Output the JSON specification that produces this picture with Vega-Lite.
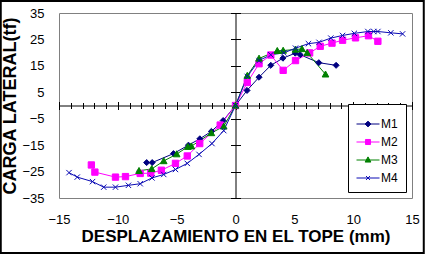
{
  "$schema": "https://vega.github.io/schema/vega-lite/v6.json",
  "width": 353,
  "height": 185,
  "autosize": {"type": "none"},
  "padding": {"left": 59, "top": 13, "right": 14, "bottom": 58},
  "background": "white",
  "config": {
    "view": {"stroke": "#808080", "strokeWidth": 1},
    "font": "Liberation Sans",
    "axis": {"grid": false}
  },
  "data": {
    "values": [
      {"series": "M1", "x": -7.55, "y": -21.6},
      {"series": "M1", "x": -7.08, "y": -21.6},
      {"series": "M1", "x": -5.27, "y": -18.2},
      {"series": "M1", "x": -4.0, "y": -15.0},
      {"series": "M1", "x": -3.03, "y": -12.6},
      {"series": "M1", "x": -2.05, "y": -9.8},
      {"series": "M1", "x": -1.05, "y": -5.7},
      {"series": "M1", "x": 0, "y": 0},
      {"series": "M1", "x": 0.98, "y": 5.7},
      {"series": "M1", "x": 2.0, "y": 10.7},
      {"series": "M1", "x": 3.0, "y": 15.2},
      {"series": "M1", "x": 4.03, "y": 17.9},
      {"series": "M1", "x": 5.08, "y": 19.8},
      {"series": "M1", "x": 5.5, "y": 19.2},
      {"series": "M1", "x": 7.08, "y": 16.2},
      {"series": "M1", "x": 8.55, "y": 15.2},
      {"series": "M2", "x": -12.25, "y": -22.5},
      {"series": "M2", "x": -11.95, "y": -25.2},
      {"series": "M2", "x": -10.2, "y": -27.1},
      {"series": "M2", "x": -9.35, "y": -26.9},
      {"series": "M2", "x": -8.1, "y": -25.7},
      {"series": "M2", "x": -7.2, "y": -25.6},
      {"series": "M2", "x": -6.3, "y": -24.5},
      {"series": "M2", "x": -5.1, "y": -21.9},
      {"series": "M2", "x": -4.1, "y": -19.1},
      {"series": "M2", "x": -3.04, "y": -14.4},
      {"series": "M2", "x": -1.3, "y": -7.4},
      {"series": "M2", "x": 0, "y": 0},
      {"series": "M2", "x": 1.0, "y": 8.7},
      {"series": "M2", "x": 2.0, "y": 15.8},
      {"series": "M2", "x": 3.0, "y": 19.1},
      {"series": "M2", "x": 4.05, "y": 13.3},
      {"series": "M2", "x": 5.1, "y": 17.0},
      {"series": "M2", "x": 6.3, "y": 19.9},
      {"series": "M2", "x": 7.2, "y": 22.4},
      {"series": "M2", "x": 8.2, "y": 23.6},
      {"series": "M2", "x": 9.1, "y": 24.7},
      {"series": "M2", "x": 10.2, "y": 25.6},
      {"series": "M2", "x": 11.3, "y": 26.4},
      {"series": "M2", "x": 12.1, "y": 24.3},
      {"series": "M3", "x": -8.2, "y": -24.7},
      {"series": "M3", "x": -7.12, "y": -24.0},
      {"series": "M3", "x": -6.1, "y": -21.0},
      {"series": "M3", "x": -5.0, "y": -18.4},
      {"series": "M3", "x": -4.05, "y": -15.6},
      {"series": "M3", "x": -3.75, "y": -15.4},
      {"series": "M3", "x": -2.05, "y": -10.4},
      {"series": "M3", "x": -1.0, "y": -7.9},
      {"series": "M3", "x": 0, "y": 0},
      {"series": "M3", "x": 1.0, "y": 11.3},
      {"series": "M3", "x": 2.0, "y": 17.8},
      {"series": "M3", "x": 3.55, "y": 20.7},
      {"series": "M3", "x": 4.05, "y": 20.8},
      {"series": "M3", "x": 5.1, "y": 21.2},
      {"series": "M3", "x": 5.65, "y": 21.4},
      {"series": "M3", "x": 6.1, "y": 19.9},
      {"series": "M3", "x": 7.65, "y": 11.8},
      {"series": "M4", "x": -14.15, "y": -25.4},
      {"series": "M4", "x": -13.45, "y": -27.1},
      {"series": "M4", "x": -12.15, "y": -28.8},
      {"series": "M4", "x": -11.2, "y": -30.9},
      {"series": "M4", "x": -10.2, "y": -30.9},
      {"series": "M4", "x": -9.1, "y": -30.2},
      {"series": "M4", "x": -8.1, "y": -29.6},
      {"series": "M4", "x": -7.1, "y": -27.4},
      {"series": "M4", "x": -6.1, "y": -26.1},
      {"series": "M4", "x": -5.1, "y": -24.2},
      {"series": "M4", "x": -4.1, "y": -21.9},
      {"series": "M4", "x": -3.1, "y": -18.5},
      {"series": "M4", "x": -2.0, "y": -14.4},
      {"series": "M4", "x": -1.0, "y": -9.5},
      {"series": "M4", "x": 0, "y": 0},
      {"series": "M4", "x": 1.0, "y": 11.0},
      {"series": "M4", "x": 2.0, "y": 17.0},
      {"series": "M4", "x": 3.0, "y": 19.2},
      {"series": "M4", "x": 4.1, "y": 19.9},
      {"series": "M4", "x": 5.1, "y": 21.7},
      {"series": "M4", "x": 6.2, "y": 23.4},
      {"series": "M4", "x": 7.1, "y": 23.9},
      {"series": "M4", "x": 8.1, "y": 25.5},
      {"series": "M4", "x": 9.1, "y": 26.5},
      {"series": "M4", "x": 10.1, "y": 27.3},
      {"series": "M4", "x": 11.25, "y": 28.0},
      {"series": "M4", "x": 11.75, "y": 28.0},
      {"series": "M4", "x": 12.1, "y": 28.0},
      {"series": "M4", "x": 13.2, "y": 27.5},
      {"series": "M4", "x": 14.2, "y": 27.1}
    ]
  },
  "resolve": {
    "axis": {"x": "independent", "y": "independent"}
  },
  "layer": [
    {
      "data": {"values": [{}]},
      "mark": {"type": "rect", "fill": "transparent", "stroke": "black", "strokeWidth": 2, "clip": false},
      "encoding": {
        "x": {"datum": -19.95, "type": "quantitative", "axis": null},
        "x2": {"datum": 16.0},
        "y": {"datum": 39.5, "type": "quantitative", "axis": null},
        "y2": {"datum": -55.8}
      }
    },
    {
      "transform": [{"filter": "datum.series === 'M1'"}],
      "mark": {"type": "line", "strokeWidth": 1, "stroke": "#000080"},
      "encoding": {
        "x": {
          "field": "x", "type": "quantitative",
          "scale": {"domain": [-15, 15], "nice": false, "zero": false},
          "axis": {
            "orient": "bottom", "values": [-15, -10, -5, 0, 5, 10, 15],
            "domain": false, "ticks": false, "grid": false,
            "labelPadding": 15, "labelFontSize": 13, "labelColor": "black", "labelFont": "Liberation Sans",
            "labelFlush": false, "labelOverlap": false,
            "title": "DESPLAZAMIENTO EN EL TOPE (mm)", "titleFont": "Liberation Sans",
            "titleFontSize": 17, "titleFontWeight": "bold", "titleColor": "black", "titlePadding": 2
          }
        },
        "y": {
          "field": "y", "type": "quantitative",
          "scale": {"domain": [-35, 35], "nice": false, "zero": false},
          "axis": {
            "orient": "left", "values": [-35, -25, -15, -5, 5, 15, 25, 35],
            "domain": false, "ticks": false, "grid": false,
            "labelPadding": 15, "labelFontSize": 13, "labelColor": "black", "labelFont": "Liberation Sans",
            "labelFlush": false, "labelOverlap": false,
            "title": "CARGA LATERAL(tf)", "titleFont": "Liberation Sans",
            "titleFontSize": 18, "titleFontWeight": "bold", "titleColor": "black", "titlePadding": 2
          }
        }
      }
    },
    {
      "transform": [{"filter": "datum.series === 'M2'"}],
      "mark": {"type": "line", "strokeWidth": 1, "stroke": "#FF00FF"},
      "encoding": {
        "x": {"field": "x", "type": "quantitative", "axis": null},
        "y": {"field": "y", "type": "quantitative", "axis": null}
      }
    },
    {
      "transform": [{"filter": "datum.series === 'M3'"}],
      "mark": {"type": "line", "strokeWidth": 1, "stroke": "#008000"},
      "encoding": {
        "x": {"field": "x", "type": "quantitative", "axis": null},
        "y": {"field": "y", "type": "quantitative", "axis": null}
      }
    },
    {
      "transform": [{"filter": "datum.series === 'M4'"}],
      "mark": {"type": "line", "strokeWidth": 1, "stroke": "#0A0AB4"},
      "encoding": {
        "x": {"field": "x", "type": "quantitative", "axis": null},
        "y": {"field": "y", "type": "quantitative", "axis": null}
      }
    },
    {
      "transform": [{"filter": "datum.series === 'M1'"}],
      "mark": {"type": "point", "shape": "M0,-0.95L0.95,0L0,0.95L-0.95,0Z", "filled": true, "fill": "#000080", "stroke": "#000080", "strokeWidth": 1, "size": 40, "opacity": 1},
      "encoding": {
        "x": {
          "field": "x", "type": "quantitative",
          "axis": {
            "orient": "bottom", "offset": -92.5,
            "values": [-15, -14, -13, -12, -11, -10, -9, -8, -7, -6, -5, -4, -3, -2, -1, 0, 1, 2, 3, 4, 5, 6, 7, 8, 9, 10, 11, 12, 13, 14, 15],
            "labels": false, "title": null, "grid": false,
            "domain": true, "domainColor": "black", "domainWidth": 1,
            "ticks": true, "tickColor": "black", "tickWidth": 1,
            "tickSize": {"condition": {"test": "datum.value % 5 === 0", "value": 4}, "value": 3}
          }
        },
        "y": {
          "field": "y", "type": "quantitative",
          "axis": {
            "orient": "left", "offset": -176.5,
            "values": [-35, -25, -15, -5, 5, 15, 25, 35],
            "labels": false, "title": null, "grid": false,
            "domain": true, "domainColor": "black", "domainWidth": 1,
            "ticks": true, "tickColor": "black", "tickWidth": 1, "tickSize": 5
          }
        }
      }
    },
    {
      "transform": [{"filter": "datum.series === 'M2'"}],
      "mark": {"type": "point", "shape": "M-1,-1H1V1H-1Z", "filled": true, "fill": "#FF00FF", "stroke": "#FF00FF", "strokeWidth": 1, "size": 40, "opacity": 1},
      "encoding": {
        "x": {
          "field": "x", "type": "quantitative",
          "axis": {
            "orient": "top", "offset": -92.5,
            "values": [-15, -14, -13, -12, -11, -10, -9, -8, -7, -6, -5, -4, -3, -2, -1, 0, 1, 2, 3, 4, 5, 6, 7, 8, 9, 10, 11, 12, 13, 14, 15],
            "labels": false, "title": null, "grid": false, "domain": false,
            "ticks": true, "tickColor": "black", "tickWidth": 1,
            "tickSize": {"condition": {"test": "datum.value % 5 === 0", "value": 4}, "value": 3}
          }
        },
        "y": {
          "field": "y", "type": "quantitative",
          "axis": {
            "orient": "right", "offset": -176.5,
            "values": [-35, -25, -15, -5, 5, 15, 25, 35],
            "labels": false, "title": null, "grid": false, "domain": false,
            "ticks": true, "tickColor": "black", "tickWidth": 1, "tickSize": 5
          }
        }
      }
    },
    {
      "transform": [{"filter": "datum.series === 'M3'"}],
      "mark": {"type": "point", "shape": "M0,-1.05L1.05,0.85H-1.05Z", "filled": true, "fill": "#008000", "stroke": "#008000", "strokeWidth": 1, "size": 40, "opacity": 1},
      "encoding": {
        "x": {"field": "x", "type": "quantitative", "axis": null},
        "y": {"field": "y", "type": "quantitative", "axis": null}
      }
    },
    {
      "transform": [{"filter": "datum.series === 'M4'"}],
      "mark": {"type": "point", "shape": "M-0.85,-0.85L0.85,0.85M-0.85,0.85L0.85,-0.85", "filled": false, "stroke": "#0A0AB4", "strokeWidth": 1, "size": 40, "opacity": 1},
      "encoding": {
        "x": {"field": "x", "type": "quantitative", "axis": null},
        "y": {"field": "y", "type": "quantitative", "axis": null}
      }
    },
    {
      "mark": {"type": "point", "filled": true, "opacity": 0, "size": 40},
      "encoding": {
        "x": {"field": "x", "type": "quantitative", "axis": null},
        "y": {"field": "y", "type": "quantitative", "axis": null},
        "color": {
          "field": "series", "type": "nominal",
          "scale": {"domain": ["M1", "M2", "M3", "M4"], "range": ["#000080", "#FF00FF", "#008000", "#0A0AB4"]},
          "legend": {
            "title": null, "orient": "bottom-right", "offset": 6, "padding": 8,
            "strokeColor": "black", "fillColor": "white",
            "symbolSize": 529, "symbolStrokeWidth": 1, "symbolOpacity": 1,
            "labelFontSize": 12, "labelFont": "Liberation Sans", "labelColor": "black", "labelOffset": 1,
            "rowPadding": -1
          }
        },
        "stroke": {
          "field": "series", "type": "nominal",
          "scale": {"domain": ["M1", "M2", "M3", "M4"], "range": ["#000080", "#FF00FF", "#008000", "#0A0AB4"]},
          "legend": {
            "title": null, "orient": "bottom-right", "offset": 6, "padding": 8,
            "strokeColor": "black", "fillColor": "white",
            "symbolSize": 529, "symbolStrokeWidth": 1, "symbolOpacity": 1,
            "labelFontSize": 12, "labelFont": "Liberation Sans", "labelColor": "black", "labelOffset": 1,
            "rowPadding": -1
          }
        },
        "shape": {
          "field": "series", "type": "nominal",
          "scale": {"domain": ["M1", "M2", "M3", "M4"], "range": [
            "M-1,0H1M0,-0.25L0.25,0L0,0.25L-0.25,0Z",
            "M-1,0H1M-0.22,-0.22H0.22V0.22H-0.22Z",
            "M-1,0H1M0,-0.27L0.25,0.18H-0.25Z",
            "M-1,0H1M-0.17,-0.17L0.17,0.17M-0.17,0.17L0.17,-0.17"
          ]},
          "legend": {
            "title": null, "orient": "bottom-right", "offset": 6, "padding": 8,
            "strokeColor": "black", "fillColor": "white",
            "symbolSize": 529, "symbolStrokeWidth": 1, "symbolOpacity": 1,
            "labelFontSize": 12, "labelFont": "Liberation Sans", "labelColor": "black", "labelOffset": 1,
            "rowPadding": -1
          }
        }
      }
    }
  ]
}
